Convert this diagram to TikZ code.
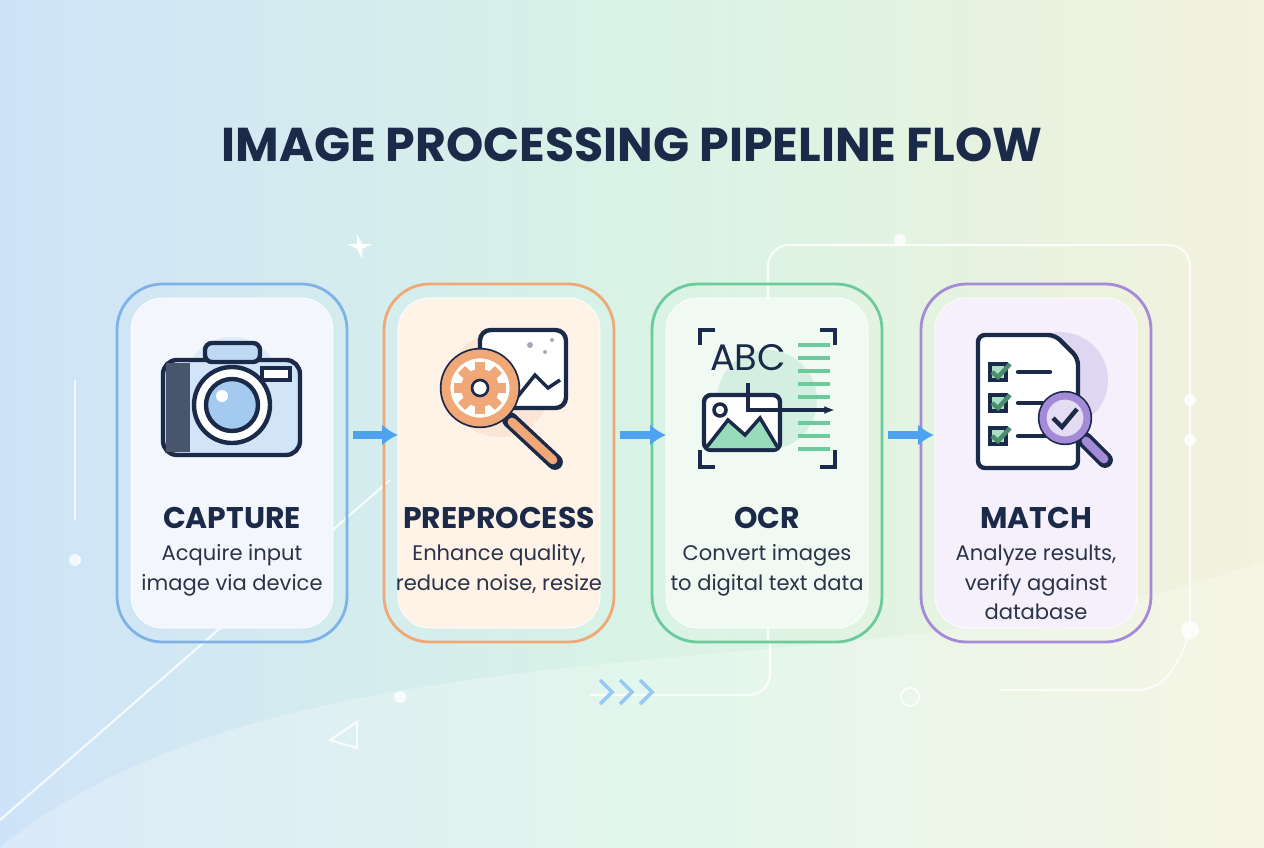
\documentclass[tikz,border=0pt]{standalone}
\usepackage{fontspec}
\setmainfont{Poppins}
\usetikzlibrary{positioning}
\usetikzlibrary{arrows.meta}
\definecolor{navy}{HTML}{1B2A48}
\definecolor{txt}{HTML}{2A3348}
\definecolor{fblue}{HTML}{7FB3E8}
\definecolor{forange}{HTML}{F0A878}
\definecolor{fgreen}{HTML}{6CCB9C}
\definecolor{fpurple}{HTML}{A58AD8}
\definecolor{cblue}{HTML}{F3F7FD}
\definecolor{corange}{HTML}{FFF3E8}
\definecolor{cgreen}{HTML}{F0FAF3}
\definecolor{cpurple}{HTML}{F5F0FC}
\definecolor{arrowc}{HTML}{4FA3EE}
\definecolor{bgl}{HTML}{CFE3F8}
\definecolor{bgm}{HTML}{D8F3E6}
\definecolor{bgr}{HTML}{F3F2DC}
\tikzset{
    frame/.style = {rounded corners=26, line width=1.6pt, minimum width=230*0.02cm, minimum height=358*0.02cm},
    card/.style = {rounded corners=18, fill=white, draw=white, minimum width=202*0.02cm, minimum height=330*0.02cm},
    steptitle/.style = {font=\bfseries\fontsize{17}{20}\selectfont, text=navy},
    stepdesc/.style = {font=\fontsize{12}{17}\selectfont, text=txt, align=center},
    flowarrow/.style = {-{Latex[length=9pt,width=12pt]}, line width=4pt, arrowc},
    deco/.style = {white, line width=1.2pt, opacity=0.8}
}
\begin{document}
\begin{tikzpicture}[x=0.02cm, y=-0.02cm]
\useasboundingbox (0,0) rectangle (1264,848);
% background
\shade[left color=bgl, right color=bgr, middle color=bgm] (0,0) rectangle (1264,848);
\fill[white, opacity=0.25] (0,848) .. controls (300,600) and (900,700) .. (1264,560) -- (1264,848) -- cycle;
% decorations
\draw[deco, rounded corners=12] (768,640) -- (768,245) -- (1190,245) -- (1190,640) -- (1160,690) -- (1000,690);
\draw[deco, rounded corners=12] (590,695) -- (770,695) -- (770,640);
\draw[deco] (75,380) -- (75,520);
\draw[deco] (0,820) -- (390,480);
\draw[deco] (910,697) circle (9);
\draw[deco] (330,740) -- (357,722) -- (357,748) -- cycle;
\fill[white] (357,234) -- (362,244) -- (372,244) -- (362,249) -- (362,259) -- (357,249) -- (347,244) -- (357,244) -- cycle;
\fill[white, opacity=0.8] (900,240) circle (6) (1190,630) circle (9) (75,560) circle (6) (400,697) circle (6) (1190,400) circle (6) (1190,440) circle (6);
\foreach \i in {0,1,2} \draw[arrowc!60, line width=2pt] (600+\i*20,680) -- (612+\i*20,692) -- (600+\i*20,704);
% title
\node[font=\bfseries\fontsize{27}{30}\selectfont, text=navy] (title) at (632,145) {IMAGE PROCESSING PIPELINE FLOW};
% frames and cards
\node[frame, draw=fblue] (f1) at (232,463) {};
\node[frame, draw=forange] (f2) at (499,463) {};
\node[frame, draw=fgreen] (f3) at (767,463) {};
\node[frame, draw=fpurple] (f4) at (1036,463) {};
\node[card, fill=cblue] (c1) at (232,463) {};
\node[card, fill=corange] (c2) at (499,463) {};
\node[card, fill=cgreen] (c3) at (767,463) {};
\node[card, fill=cpurple] (c4) at (1036,463) {};
% arrows
\draw[flowarrow] (f1.east) ++(5,-28) coordinate (a1) -- (398,435);
\draw[flowarrow] (f2.east) ++(5,-28) coordinate (a2) -- (666,435);
\draw[flowarrow] (f3.east) ++(5,-28) coordinate (a3) -- (934,435);
% icon halos
\fill[fblue!25] (232,385) circle (48);
\fill[forange!30] (499,385) circle (52);
\fill[fgreen!30] (767,400) circle (50);
\fill[fpurple!35] (1060,380) circle (48);
% camera
\draw[navy, line width=2.5pt, fill=fblue!35, rounded corners=8] (163,360) rectangle (300,455);
\draw[navy, line width=2.5pt, fill=fblue!50, rounded corners=4] (205,343) rectangle (260,362);
\fill[navy!80] (166,363) rectangle (190,452);
\draw[navy, line width=2.5pt, fill=white] (232,405) circle (38);
\draw[navy, line width=2.5pt, fill=fblue!70] (232,405) circle (26);
\fill[white] (222,396) circle (6);
\draw[navy, line width=2pt, fill=white] (262,368) rectangle (290,380);
% magnifier with gear and picture
\draw[navy, line width=2.5pt, fill=white, rounded corners=6] (480,330) rectangle (566,408);
\fill[navy!40] (530,345) circle (3) (545,352) circle (2) (552,340) circle (2);
\draw[navy, line width=2pt] (515,400) -- (535,375) -- (548,388) -- (560,380);
\draw[navy, line width=9pt, line cap=round] (510,420) -- (555,462);
\draw[forange, line width=5pt, line cap=round] (512,422) -- (553,460);
\draw[navy, line width=2.5pt, fill=white] (480,388) circle (38);
\draw[forange, line width=5pt] (480,388) circle (34);
\foreach \a in {0,45,...,315} \fill[forange, rotate around={\a:(480,388)}] (475,362) rectangle (485,372);
\fill[forange] (480,388) circle (19);
\draw[navy, line width=1.5pt, fill=white] (480,388) circle (8);
% OCR
\draw[navy, line width=2.2pt] (700,345) -- (700,330) -- (715,330) (820,330) -- (835,330) -- (835,345) (700,450) -- (700,467) -- (715,467) (820,467) -- (835,467) -- (835,450);
\node[font=\fontsize{21}{21}\selectfont, text=navy] (abc) at (748,358) {ABC};
\foreach \y in {345,358,371,384,397,410,423,436,449} \draw[fgreen, line width=2pt] (798,\y) -- (830,\y);
\draw[navy, line width=2.5pt, fill=white, rounded corners=4] (704,395) rectangle (780,450);
\fill[fgreen!70] (706,448) -- (728,420) -- (745,435) -- (760,418) -- (778,448) -- cycle;
\draw[navy, line width=2pt] (706,448) -- (728,420) -- (745,435) -- (760,418) -- (778,448);
\draw[navy, line width=2pt, fill=white] (720,410) circle (6);
\draw[navy, line width=2pt, -{Latex[length=6pt]}] (748,383) -- (748,410) -- (835,410);
% document with checks
\draw[navy, line width=2.5pt, fill=white, rounded corners=4] (978,335) -- (1055,335) -- (1078,358) -- (1078,468) -- (978,468) -- cycle;
\foreach \y in {372,403,436} {
  \draw[navy, line width=2pt, fill=fgreen!60] (990,\y-8) rectangle (1006,\y+8);
  \draw[fgreen!70!black, line width=2.5pt] (992,\y) -- (998,\y+5) -- (1010,\y-8);
  \draw[navy, line width=2.5pt, line cap=round] (1018,\y) -- (1050,\y);
}
\draw[navy, line width=9pt, line cap=round] (1085,440) -- (1105,460);
\draw[fpurple, line width=5pt, line cap=round] (1086,441) -- (1104,459);
\draw[navy, line width=2.5pt, fill=fpurple!30] (1065,418) circle (25);
\draw[fpurple, line width=4pt] (1065,418) circle (22);
\draw[navy, line width=2.5pt] (1053,418) -- (1062,427) -- (1077,409);
% labels
\node[steptitle] (t1) at (232,518) {CAPTURE};
\node[steptitle] (t2) at (499,518) {PREPROCESS};
\node[steptitle] (t3) at (767,518) {OCR};
\node[steptitle] (t4) at (1036,518) {MATCH};
\node[stepdesc, below=2pt of t1] (d1) {Acquire input\\image via device};
\node[stepdesc, below=2pt of t2] (d2) {Enhance quality,\\reduce noise, resize};
\node[stepdesc, below=2pt of t3] (d3) {Convert images\\to digital text data};
\node[stepdesc, below=2pt of t4] (d4) {Analyze results,\\verify against\\database};
\end{tikzpicture}
\end{document}
